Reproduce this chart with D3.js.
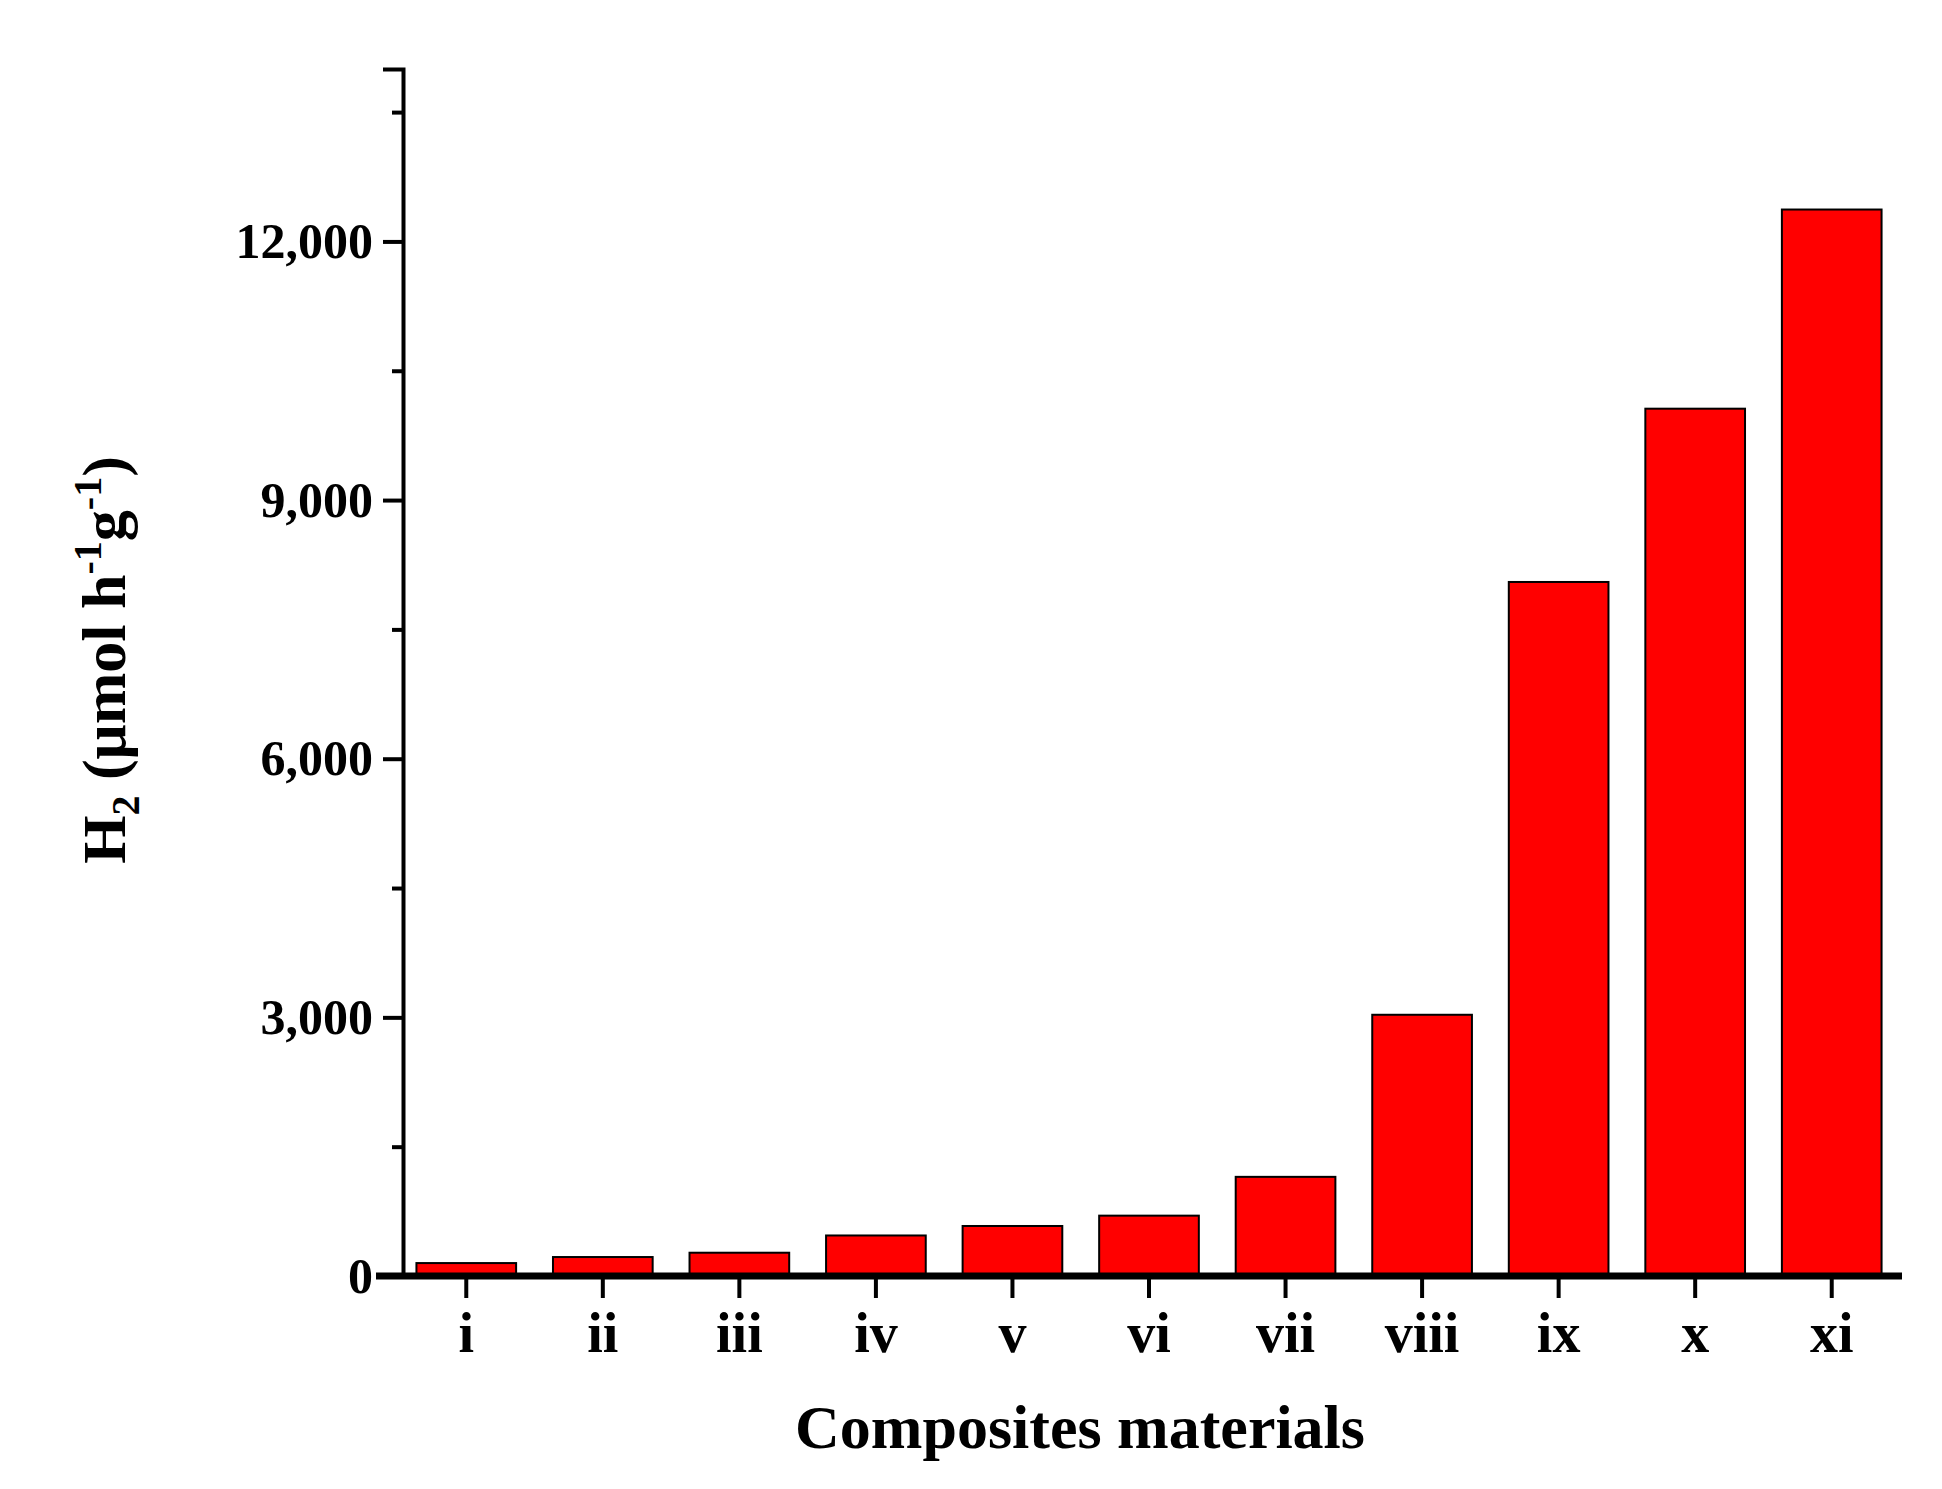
<!DOCTYPE html>
<html><head><meta charset="utf-8">
<script src="https://cdn.jsdelivr.net/npm/d3@7"></script>
<style>body{margin:0;background:#fff}text{font-family:"Liberation Serif","Times New Roman",serif;font-weight:bold}</style>
</head><body><svg id="c" width="1942" height="1489"></svg>
<script>
const categories = ['i','ii','iii','iv','v','vi','vii','viii','ix','x','xi'];
const values = [150, 220, 270, 470, 580, 700, 1150, 3030, 8050, 10060, 12370];
const yTicks = [0, 3000, 6000, 9000, 12000];

const svg = d3.select('#c');
const x = d3.scaleBand().domain(categories).range([398, 1900]).paddingInner(0.27).paddingOuter(0.135);
const y = d3.scaleLinear().domain([0, 14000]).range([1276, 69]);

svg.selectAll('rect').data(values).enter().append('rect')
  .attr('x', (d, i) => x(categories[i]))
  .attr('y', d => y(d))
  .attr('width', x.bandwidth())
  .attr('height', d => y(0) - y(d))
  .attr('fill', '#ff0000').attr('stroke', '#000').attr('stroke-width', 2);

const yAxis = svg.append('g').attr('transform', 'translate(403,0)')
  .call(d3.axisLeft(y).tickValues(yTicks).tickSize(20).tickPadding(10).tickFormat(d3.format(',')));
svg.append('g').attr('transform', 'translate(403,0)')
  .call(d3.axisLeft(y).tickValues(d3.range(1500, 14000, 3000)).tickSize(11).tickFormat(''))
  .select('.domain').remove();
yAxis.select('.domain').attr('stroke-width', 4);
yAxis.selectAll('.tick line').attr('stroke-width', 4);
yAxis.selectAll('text').attr('font-size', 50).attr('fill', '#000');
svg.selectAll('g line').attr('stroke-width', 4);

const xAxis = svg.append('g').attr('transform', 'translate(0,1276)')
  .call(d3.axisBottom(x).tickSize(22).tickPadding(14).tickSizeOuter(0));
xAxis.select('.domain').attr('d', 'M376,0H1902').attr('stroke-width', 7);
xAxis.selectAll('.tick line').attr('stroke-width', 4);
xAxis.selectAll('text').attr('font-size', 56).attr('fill', '#000');

svg.append('text').attr('x', 1080).attr('y', 1448).attr('text-anchor', 'middle')
  .attr('font-size', 62).text('Composites materials');

const yl = svg.append('text').attr('transform', 'translate(125,660) rotate(-90)')
  .attr('text-anchor', 'middle').attr('font-size', 62);
yl.append('tspan').text('H');
yl.append('tspan').attr('font-size', 40).attr('dy', 14).text('2');
yl.append('tspan').attr('dy', -14).text(' (\u03bcmol h');
yl.append('tspan').attr('font-size', 40).attr('dy', -24).text('-1');
yl.append('tspan').attr('dy', 24).text('g');
yl.append('tspan').attr('font-size', 40).attr('dy', -24).text('-1');
yl.append('tspan').attr('dy', 24).text(')');
</script></body></html>
